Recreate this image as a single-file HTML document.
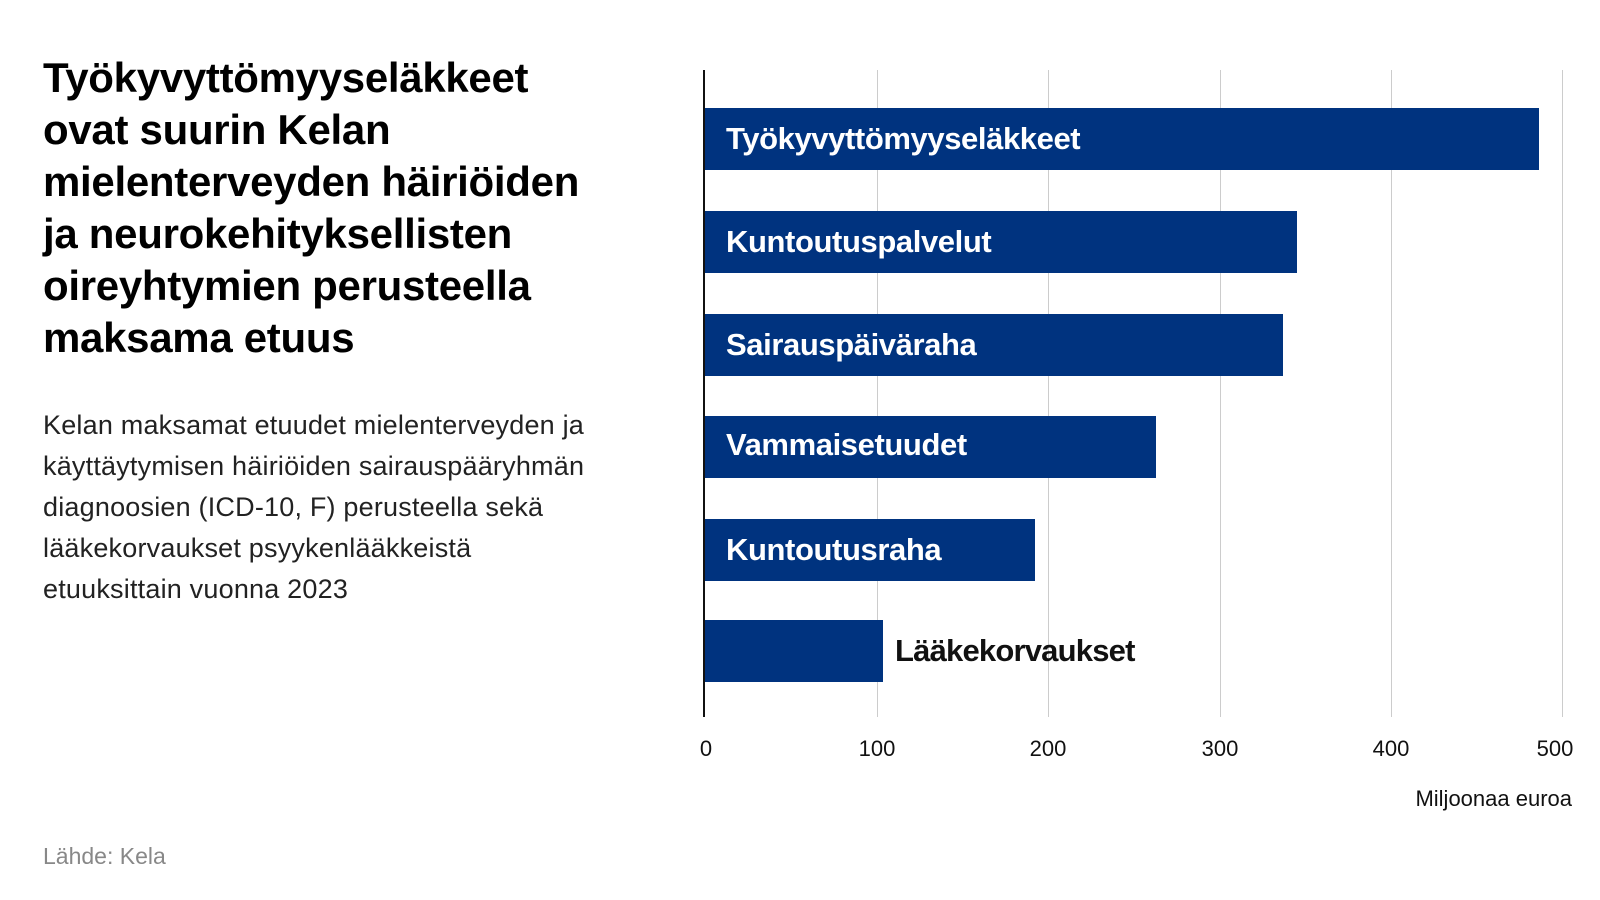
<!DOCTYPE html>
<html><head><meta charset="utf-8"><style>
body{margin:0;width:1600px;height:900px;background:#fff;font-family:"Liberation Sans",sans-serif;position:relative;overflow:hidden;color:#000}
.t{position:absolute;left:43px;top:52px;font-weight:bold;font-size:42px;line-height:52px;letter-spacing:-0.3px;white-space:nowrap}
.s{position:absolute;left:43px;top:405px;font-size:27px;line-height:41px;letter-spacing:0.2px;color:#222;white-space:nowrap}
.src{position:absolute;left:43px;top:843px;font-size:23px;color:#888}
.g{position:absolute;top:70px;height:647px;width:1px;background:#ccc}
.ax{position:absolute;left:703px;top:70px;height:647px;width:2px;background:#111}
.b{position:absolute;left:704px;height:62px;background:#00337f}
.l{position:absolute;font-weight:bold;font-size:31px;letter-spacing:-0.4px;color:#fff;left:726px;line-height:62px}
.tk{position:absolute;top:736px;font-size:22px;width:80px;text-align:center;color:#111}
</style></head><body>
<div class="t">Työkyvyttömyyseläkkeet<br>ovat suurin Kelan<br>mielenterveyden häiriöiden<br>ja neurokehityksellisten<br>oireyhtymien perusteella<br>maksama etuus</div>
<div class="s">Kelan maksamat etuudet mielenterveyden ja<br>käyttäytymisen häiriöiden sairauspääryhmän<br>diagnoosien (ICD-10, F) perusteella sekä<br>lääkekorvaukset psyykenlääkkeistä<br>etuuksittain vuonna 2023</div>
<div class="src">Lähde: Kela</div>
<div class="g" style="left:877px"></div><div class="g" style="left:1048px"></div><div class="g" style="left:1220px"></div><div class="g" style="left:1391px"></div><div class="g" style="left:1562px"></div>
<div class="b" style="top:108px;width:835px"></div>
<div class="b" style="top:211px;width:593px"></div>
<div class="b" style="top:314px;width:579px"></div>
<div class="b" style="top:416px;width:452px"></div>
<div class="b" style="top:519px;width:331px"></div>
<div class="b" style="top:620px;width:179px"></div>
<div class="ax"></div>
<div class="l" style="top:108px">Työkyvyttömyyseläkkeet</div>
<div class="l" style="top:211px">Kuntoutuspalvelut</div>
<div class="l" style="top:314px">Sairauspäiväraha</div>
<div class="l" style="top:414px">Vammaisetuudet</div>
<div class="l" style="top:519px">Kuntoutusraha</div>
<div class="l" style="top:620px;left:895px;color:#111;letter-spacing:-0.8px">Lääkekorvaukset</div>
<div class="tk" style="left:666px">0</div><div class="tk" style="left:837px">100</div><div class="tk" style="left:1008px">200</div><div class="tk" style="left:1180px">300</div><div class="tk" style="left:1351px">400</div><div class="tk" style="left:1515px">500</div>
<div style="position:absolute;right:28px;top:786px;font-size:22px;color:#111">Miljoonaa euroa</div>
</body></html>
